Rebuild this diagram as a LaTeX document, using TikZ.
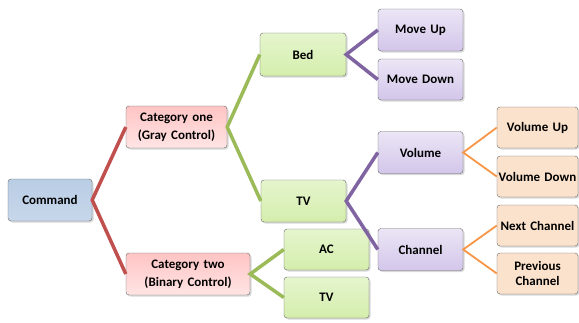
\documentclass[tikz,border=0pt]{standalone}
\usepackage{fontspec}
\setmainfont{Carlito}
\usepackage{tikz}
\usetikzlibrary{shadows}
\definecolor{cmdfill}{HTML}{B9CDE5}
\definecolor{catfill}{HTML}{FFC4C4}
\definecolor{devfill}{HTML}{D4EEAC}
\definecolor{actfill}{HTML}{D3C6EA}
\definecolor{subfill}{HTML}{FBE2CC}
\definecolor{redline}{HTML}{C0504D}
\definecolor{greenline}{HTML}{9BBB59}
\definecolor{purpleline}{HTML}{8064A2}
\definecolor{orangeline}{HTML}{F79646}
\tikzstyle{box} = [rectangle, draw=gray!80!black, rounded corners=3pt, inner sep=0pt,
    align=center, minimum height=42pt, font=\fontsize{13}{15}\selectfont\bfseries,
    drop shadow={shadow xshift=1.5pt, shadow yshift=-1.5pt, opacity=0.3}]
\tikzstyle{command} = [box, text width=84pt, top color=cmdfill, bottom color=cmdfill!80!white]
\tikzstyle{category} = [box, top color=catfill, bottom color=catfill!45!white]
\tikzstyle{device} = [box, text width=85pt, top color=devfill!60!white, bottom color=devfill]
\tikzstyle{action} = [box, text width=85pt, top color=actfill!45!white, bottom color=actfill]
\tikzstyle{subaction} = [box, text width=81pt, minimum height=41pt, fill=subfill]
\tikzstyle{redlink} = [draw=redline, line width=3.5pt]
\tikzstyle{greenlink} = [draw=greenline, line width=3.5pt]
\tikzstyle{purplelink} = [draw=purpleline, line width=3.5pt]
\tikzstyle{orangelink} = [draw=orangeline, line width=1.8pt]

\begin{document}
\begin{tikzpicture}[x=1pt, y=-1pt]
    \useasboundingbox (0,0) rectangle (579,322);
    % Nodes
    \node [command] (command) at (50,200) {Command};
    \node [category, text width=101pt] (catone) at (176.5,127) {Category one\\[3pt](Gray Control)};
    \node [category, text width=124pt] (cattwo) at (188,274) {Category two\\[3pt](Binary Control)};
    \node [device, text width=86pt, minimum height=43pt] (bed) at (303,54.5) {Bed};
    \node [device] (tvone) at (303.5,201) {TV};
    \node [device, minimum height=41pt] (ac) at (326.5,249.5) {AC};
    \node [device, minimum height=41pt] (tvtwo) at (326.5,297.5) {TV};
    \node [action] (moveup) at (420.5,30) {Move Up};
    \node [action, minimum height=41pt] (movedown) at (420.5,79.5) {Move Down};
    \node [action] (volume) at (420.5,152.5) {Volume};
    \node [action] (channel) at (420.5,249.5) {Channel};
    \node [subaction] (volup) at (537.5,127.5) {Volume Up};
    \node [subaction] (voldown) at (537.5,176.5) {Volume Down};
    \node [subaction] (nextch) at (537.5,225.5) {Next Channel};
    \node [subaction] (prevch) at (537.5,273.5) {Previous\\Channel};
    % Edges
    \path [redlink] (catone.west) -- (command.east) -- (cattwo.west);
    \path [greenlink] (bed.west) -- (catone.east) -- (tvone.west);
    \path [greenlink] (ac.west) -- (cattwo.east) -- (tvtwo.west);
    \path [purplelink] (moveup.west) -- (bed.east) -- (movedown.west);
    \path [purplelink] (volume.west) -- (tvone.east) -- (channel.west);
    \path [orangelink] (volup.west) -- (volume.east) -- (voldown.west);
    \path [orangelink] (nextch.west) -- (channel.east) -- (prevch.west);
\end{tikzpicture}
\end{document}
